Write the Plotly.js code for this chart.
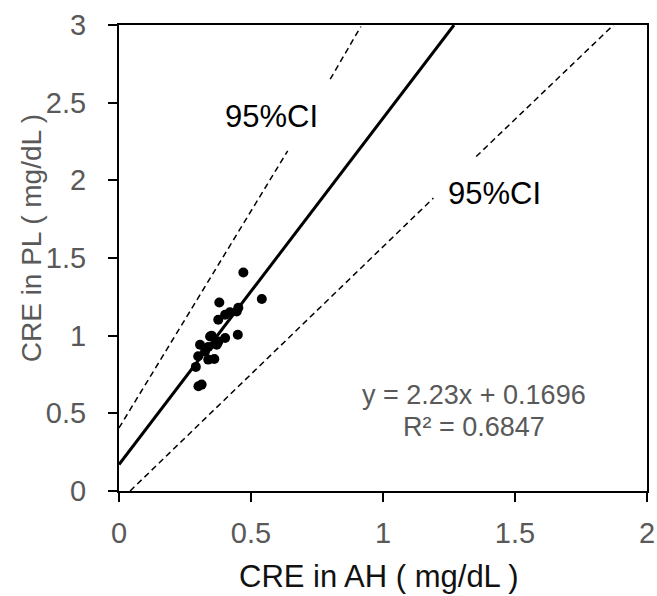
<!DOCTYPE html>
<html>
<head>
<meta charset="utf-8">
<script src="https://cdn.plot.ly/plotly-3.0.1.min.js"></script>
<style>html,body{margin:0;padding:0;background:#fff;}#chart{width:657px;height:596px;}</style>
</head>
<body>
<div id="chart"></div>
<script>
// Scatter data: CRE in AH (x) vs CRE in PL (y), mg/dL
const ahValues = [0.471, 0.541, 0.380, 0.452, 0.446, 0.402, 0.376, 0.450, 0.402, 0.351, 0.376, 0.307, 0.338, 0.370, 0.326, 0.300, 0.361, 0.338, 0.291, 0.301, 0.313, 0.345, 0.373, 0.420];
const plValues = [1.407, 1.236, 1.214, 1.180, 1.156, 1.135, 1.103, 1.006, 0.985, 1.000, 0.963, 0.942, 0.927, 0.942, 0.899, 0.867, 0.850, 0.846, 0.799, 0.674, 0.685, 0.995, 0.953, 1.150];

// Regression line
const fitX = [0, 1.269];
const fitY = [0.17, 3.0];

// 95% CI lines (with gaps for labels)
const ciUpperX = [0, 0.639, null, 0.800, 0.916];
const ciUpperY = [0.406, 2.19, null, 2.651, 2.99];
const ciLowerX = [0.042, 1.191, null, 1.353, 1.873];
const ciLowerY = [0, 1.886, null, 2.153, 3.0];

// Axis ticks
const xTicks = [0, 0.5, 1, 1.5, 2];
const xTickText = ["0", "0.5", "1", "1.5", "2"];
const yTicks = [0, 0.5, 1, 1.5, 2, 2.5, 3];
const yTickText = ["0", "0.5", "1", "1.5", "2", "2.5", "3"];

// Texts
const xTitle = "CRE in AH ( mg/dL )";
const yTitle = "CRE in PL ( mg/dL )";
const ciLabel = "95%CI";
const eqLine1 = "y = 2.23x + 0.1696";
const eqLine2 = "R² = 0.6847";

const FONT = "Liberation Sans, Arial, sans-serif";

const traces = [
  {x: ciUpperX, y: ciUpperY, mode: "lines", line: {color: "#000", width: 1.5, dash: "6px,4px"}, connectgaps: false, hoverinfo: "skip"},
  {x: ciLowerX, y: ciLowerY, mode: "lines", line: {color: "#000", width: 1.5, dash: "6px,4px"}, connectgaps: false, hoverinfo: "skip"},
  {x: fitX, y: fitY, mode: "lines", line: {color: "#000", width: 3}, hoverinfo: "skip"},
  {x: ahValues, y: plValues, mode: "markers", marker: {color: "#000", size: 10}}
];

const layout = {
  width: 657, height: 596,
  margin: {l: 119, r: 10, t: 25, b: 104.5},
  paper_bgcolor: "#fff", plot_bgcolor: "#fff",
  showlegend: false,
  font: {family: FONT},
  xaxis: {
    range: [0, 2], tickvals: xTicks, ticktext: xTickText,
    ticks: "outside", ticklen: 9, tickwidth: 2, tickcolor: "#000",
    showline: true, linewidth: 2, linecolor: "#000", mirror: true,
    showgrid: false, zeroline: false, fixedrange: true,
    tickfont: {family: FONT, size: 29, color: "#595959"},
    ticklabelstandoff: 6
  },
  yaxis: {
    range: [0, 3], tickvals: yTicks, ticktext: yTickText,
    ticks: "outside", ticklen: 9, tickwidth: 2, tickcolor: "#000",
    showline: true, linewidth: 2, linecolor: "#000", mirror: true,
    showgrid: false, zeroline: false, fixedrange: true,
    tickfont: {family: FONT, size: 29, color: "#595959"},
    ticklabelstandoff: 16
  },
  annotations: [
    {xref: "paper", yref: "paper", x: -0.1667, y: 0.5423, text: yTitle, textangle: -90, showarrow: false,
     font: {family: FONT, size: 28, color: "#595959"}, xanchor: "center", yanchor: "middle"},
    {xref: "paper", yref: "paper", x: 0.4915, y: -0.1833, text: xTitle, showarrow: false,
     font: {family: FONT, size: 31, color: "#111"}, xanchor: "center", yanchor: "middle"},
    {x: 0.576, y: 2.41, text: ciLabel, showarrow: false, font: {family: FONT, size: 31, color: "#000"}, xanchor: "center", yanchor: "middle"},
    {x: 1.421, y: 1.913, text: ciLabel, showarrow: false, font: {family: FONT, size: 31, color: "#000"}, xanchor: "center", yanchor: "middle"},
    {x: 1.345, y: 0.615, text: eqLine1, showarrow: false, font: {family: FONT, size: 27, color: "#595959"}, xanchor: "center", yanchor: "middle"},
    {x: 1.345, y: 0.41, text: eqLine2, showarrow: false, font: {family: FONT, size: 27, color: "#595959"}, xanchor: "center", yanchor: "middle"}
  ]
};

Plotly.newPlot("chart", traces, layout, {staticPlot: true, displayModeBar: false});
</script>
</body>
</html>
